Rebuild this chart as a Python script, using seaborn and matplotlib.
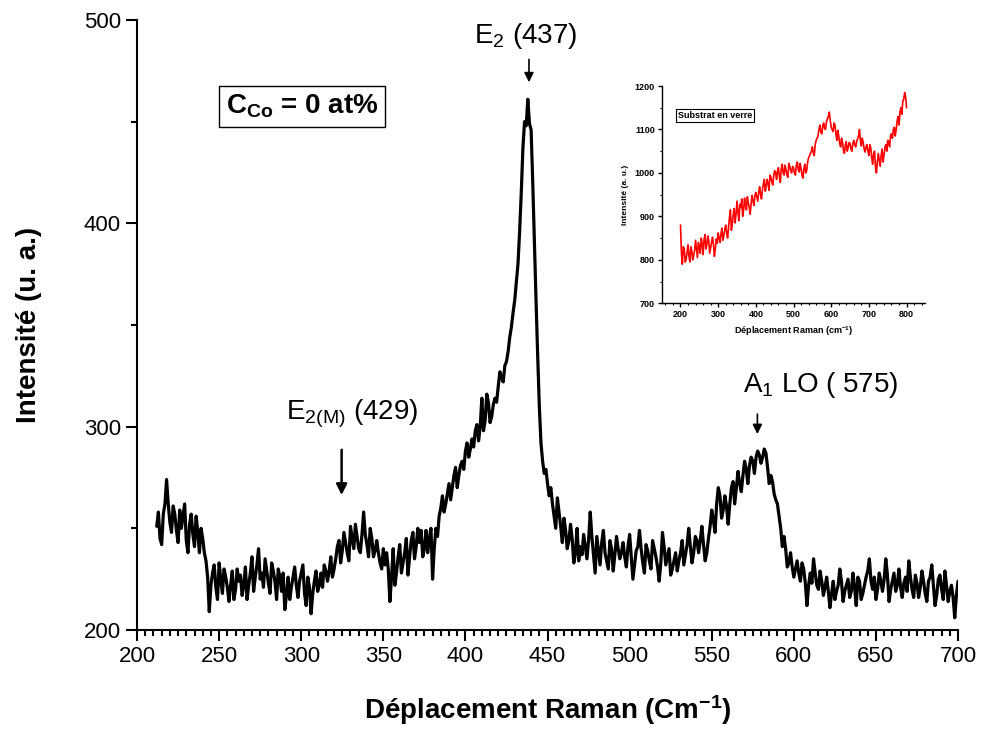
import numpy as np
import pandas as pd
import matplotlib
matplotlib.use("Agg")
import matplotlib.pyplot as plt
import seaborn as sns
from matplotlib.ticker import MultipleLocator

# ---------------- data ----------------
# Main Raman spectrum (C_Co = 0 at%): even wavenumbers 212..700
shift_even = np.arange(212, 701, 2)
intensity_even = [
    251, 245, 257, 274, 253, 261, 249, 259, 256, 244,   # 212-230
    252, 247, 256, 238, 245, 234, 209, 228, 221, 233,   # 232-250
    218, 226, 214, 229, 220, 224, 217, 231, 222, 236,   # 252-270
    226, 240, 228, 235, 223, 233, 224, 230, 219, 210,   # 272-290
    226, 221, 231, 216, 228, 218, 226, 208, 224, 219,   # 292-310
    228, 232, 224, 236, 230, 241, 233, 248, 238, 251,   # 312-330
    240, 246, 238, 258, 242, 250, 236, 244, 233, 240,   # 332-350
    238, 214, 240, 228, 242, 233, 245, 236, 248, 241,   # 352-370
    243, 236, 249, 245, 225, 250, 256, 266, 262, 272,   # 372-390
    270, 280, 276, 283, 288, 285, 294, 298, 293, 314,   # 392-410
    303, 312, 305, 314, 320, 324, 330, 337, 349, 362,   # 412-430
    380, 415, 450, 461, 446, 390, 335, 292, 277, 272,   # 432-450
    270, 256, 265, 251, 255, 240, 252, 233, 250, 241,   # 452-470
    247, 235, 258, 237, 246, 232, 249, 234, 244, 229,   # 472-490
    246, 235, 243, 231, 247, 225, 239, 249, 233, 242,   # 492-510
    234, 244, 236, 224, 248, 232, 240, 230, 238, 234,   # 512-530
    244, 237, 250, 233, 246, 238, 251, 234, 245, 259,   # 532-550
    248, 270, 255, 266, 252, 270, 262, 278, 268, 283,   # 552-570
    272, 285, 277, 288, 282, 289, 280, 276, 267, 262,   # 572-590
    250, 246, 231, 238, 226, 234, 224, 230, 212, 228,   # 592-610
    235, 222, 229, 217, 226, 211, 224, 219, 230, 214,   # 612-630
    222, 216, 228, 212, 224, 218, 226, 235, 220, 215,   # 632-650
    228, 219, 235, 214, 224, 219, 230, 216, 226, 234,   # 652-670
    220, 227, 216, 229, 218, 224, 232, 212, 225, 220,   # 672-690
    229, 214, 222, 206, 224,                            # 692-700
]
# odd wavenumbers 213..699
shift_odd = np.arange(213, 700, 2)
intensity_odd = [
    258, 242, 262, 262, 248, 257, 243, 250, 262, 238,   # 213-231
    257, 241, 248, 250, 238, 226, 222, 232, 215, 225,   # 233-251
    230, 221, 222, 215, 230, 227, 222, 215, 228, 219,   # 253-271
    232, 225, 221, 229, 218, 229, 215, 226, 228, 217,   # 273-291
    215, 226, 222, 224, 232, 212, 221, 218, 229, 222,   # 293-311
    221, 229, 229, 226, 235, 244, 239, 243, 234, 245,   # 313-331
    252, 240, 247, 247, 236, 245, 239, 238, 230, 232,   # 333-351
    230, 226, 222, 236, 228, 238, 227, 244, 235, 250,   # 353-371
    249, 240, 238, 250, 240, 246, 260, 258, 267, 264,   # 373-391
    276, 270, 281, 279, 292, 289, 290, 301, 300, 298,   # 393-411
    316, 302, 311, 312, 327, 322, 332, 344, 356, 371,   # 413-431
    396, 437, 448, 449, 420, 362, 310, 283, 279, 266,   # 433-451
    262, 250, 258, 243, 249, 244, 245, 238, 234, 237,   # 453-471
    241, 244, 246, 228, 239, 243, 238, 230, 240, 237,   # 473-491
    240, 238, 236, 241, 236, 232, 241, 240, 228, 239,   # 493-511
    230, 240, 231, 233, 241, 236, 227, 234, 229, 238,   # 513-531
    232, 242, 241, 238, 244, 244, 242, 238, 251, 254,   # 533-551
    262, 266, 259, 261, 262, 273, 270, 272, 276, 279,   # 553-571
    281, 283, 285, 286, 285, 287, 272, 273, 264, 256,   # 573-591
    241, 240, 233, 231, 230, 228, 233, 223, 222, 223,   # 593-611
    228, 220, 224, 221, 219, 218, 215, 222, 224, 219,   # 613-631
    225, 219, 221, 226, 215, 222, 229, 224, 226, 220,   # 633-651
    224, 225, 227, 220, 228, 222, 221, 223, 219, 226,   # 653-671
    216, 223, 221, 224, 214, 226, 222, 217, 227, 215,   # 673-691
    222, 219, 216, 217,                                 # 693-699
]

# Inset: glass substrate spectrum, grid 200..800 step 5 cm-1 plus mid-points
substrate_shift = np.arange(200, 801, 5)
substrate_intensity = [
    880, 790, 825, 800, 835, 795, 820, 810, 845, 805,
    830, 850, 812, 858, 835, 845, 828, 852, 808, 848,
    862, 840, 873, 855, 880, 850, 898, 868, 905, 885,
    935, 890, 920, 900, 942, 915, 930, 905, 948, 925,
    955, 935, 968, 940, 975, 958, 985, 960, 990, 972,
    1005, 985, 1012, 978, 1020, 995, 1008, 990, 1015, 1000,
    1012, 995, 1025, 1002, 1010, 988, 1020, 1005, 1035, 1045,
    1060, 1040, 1075, 1085, 1110, 1090, 1115, 1100, 1125, 1140,
    1105, 1095, 1110, 1075, 1085, 1060, 1070, 1045, 1072, 1058,
    1068, 1050, 1075, 1060, 1078, 1100, 1062, 1070, 1048, 1065,
    1040, 1058, 1020, 1050, 1000, 1045, 1015, 1055, 1040, 1065,
    1075, 1060, 1090, 1100, 1085, 1120, 1110, 1150, 1165, 1185,
    1150,
]
substrate_shift_mid = np.arange(202.5, 800, 5)
substrate_intensity_mid = [
    815, 830, 795, 818, 808, 830, 800, 822, 826, 840,
    815, 838, 846, 825, 855, 815, 840, 835, 826, 838,
    850, 860, 845, 870, 862, 875, 915, 882, 918, 905,
    910, 928, 940, 915, 925, 945, 920, 930, 935, 948,
    945, 955, 950, 962, 985, 970, 975, 995, 980, 995,
    1000, 1005, 990, 1010, 1000, 1018, 995, 1022, 1005, 1015,
    1000, 1018, 1008, 1022, 995, 1010, 1000, 1025, 1040, 1050,
    1045, 1065, 1080, 1100, 1095, 1108, 1102, 1118, 1130, 1120,
    1100, 1115, 1090, 1098, 1068, 1080, 1052, 1065, 1050, 1070,
    1055, 1068, 1065, 1072, 1085, 1075, 1080, 1055, 1060, 1050,
    1065, 1035, 1045, 1015, 1025, 1030, 1040, 1025, 1058, 1050,
    1070, 1085, 1080, 1105, 1100, 1130, 1140, 1135, 1170, 1175,
]

main_xticks = [200, 250, 300, 350, 400, 450, 500, 550, 600, 650, 700]
main_yticks = [200, 300, 400, 500]
inset_xticks = [200, 300, 400, 500, 600, 700, 800]
inset_yticks = [700, 800, 900, 1000, 1100, 1200]

# ---------------- style ----------------
sns.set_style("ticks")
plt.rcParams['font.family'] = ['Liberation Sans', 'DejaVu Sans']
plt.rcParams['mathtext.fontset'] = 'custom'
plt.rcParams['mathtext.rm'] = 'Liberation Sans'
plt.rcParams['mathtext.it'] = 'Liberation Sans:italic'
plt.rcParams['mathtext.bf'] = 'Liberation Sans:bold'
for key in ['text.color', 'axes.labelcolor', 'xtick.color', 'ytick.color',
            'axes.edgecolor']:
    plt.rcParams[key] = 'black'

fig = plt.figure(figsize=(9.83, 7.29), dpi=100)
ax = fig.add_axes([0.1394, 0.1358, 0.8352, 0.8368])

df = pd.concat([
    pd.DataFrame({"x": shift_even, "y": intensity_even}),
    pd.DataFrame({"x": shift_odd, "y": intensity_odd}),
]).sort_values("x")
sns.lineplot(data=df, x="x", y="y", ax=ax, color="black", linewidth=2.3,
             estimator=None, sort=False)

ax.set_xlim(200, 700)
ax.set_ylim(200, 500)
ax.set_xticks(main_xticks)
ax.set_yticks(main_yticks)
ax.xaxis.set_minor_locator(MultipleLocator(5))
ax.yaxis.set_minor_locator(MultipleLocator(50))
ax.tick_params(axis='both', which='major', direction='out', length=8, width=1.5,
               labelsize=16)
ax.tick_params(axis='both', which='minor', direction='out', length=4, width=1.5)
for s in ['top', 'right']:
    ax.spines[s].set_visible(False)
for s in ['left', 'bottom']:
    ax.spines[s].set_linewidth(1.5)

ax.set_xlabel(r'Déplacement Raman (Cm$^{\mathbf{-1}}$)', fontsize=20,
              fontweight='bold', labelpad=19)
ax.set_ylabel('Intensité (u. a.)', fontsize=20, fontweight='bold', labelpad=30)

# Annotations
ax.text(436.6, 488.5, r'E$_{2}$ (437)', fontsize=20, ha='center', va='baseline')
ax.annotate('', xy=(438.7, 468), xytext=(438.7, 482),
            arrowprops=dict(arrowstyle='-|>', color='black', lw=1.2,
                            mutation_scale=14))
ax.text(331, 303.5, r'E$_{\mathrm{2(M)}}$ (429)', fontsize=20, ha='center',
        va='baseline')
ax.annotate('', xy=(324.6, 265), xytext=(324.6, 290),
            arrowprops=dict(arrowstyle='-|>', color='black', lw=1.8,
                            mutation_scale=16))
ax.text(616.5, 317, r'A$_{1}$ LO ( 575)', fontsize=20, ha='center', va='baseline')
ax.annotate('', xy=(577.8, 295), xytext=(577.8, 307.5),
            arrowprops=dict(arrowstyle='-|>', color='black', lw=1.2,
                            mutation_scale=14))

ax.text(300.5, 457.5, r'C$_{\mathbf{Co}}$ = 0 at%', fontsize=20, fontweight='bold',
        ha='center', va='center',
        bbox=dict(boxstyle='square,pad=0.25', facecolor='white',
                  edgecolor='black', linewidth=1.0))

# ---------------- inset ----------------
axi = fig.add_axes([0.6731, 0.584, 0.2683, 0.298])
dfi = pd.concat([
    pd.DataFrame({"x": substrate_shift, "y": substrate_intensity}),
    pd.DataFrame({"x": substrate_shift_mid, "y": substrate_intensity_mid}),
]).sort_values("x")
sns.lineplot(data=dfi, x="x", y="y", ax=axi, color="red", linewidth=1.2,
             estimator=None, sort=False)
axi.set_xlim(150, 850)
axi.set_ylim(700, 1200)
axi.set_xticks(inset_xticks)
axi.set_yticks(inset_yticks)
axi.xaxis.set_minor_locator(MultipleLocator(20))
axi.yaxis.set_minor_locator(MultipleLocator(50))
axi.tick_params(axis='both', which='major', direction='out', length=3, width=1.0,
                labelsize=6.5, pad=2)
axi.tick_params(axis='both', which='minor', direction='out', length=1.5, width=0.8)
for lab in axi.get_xticklabels() + axi.get_yticklabels():
    lab.set_fontweight('bold')
for s in ['top', 'right']:
    axi.spines[s].set_visible(False)
for s in ['left', 'bottom']:
    axi.spines[s].set_linewidth(1.0)
axi.set_xlabel(r'Déplacement Raman (cm$^{\mathbf{-1}}$)', fontsize=6.5,
               fontweight='bold', labelpad=4)
axi.set_ylabel('Intensité (a. u.)', fontsize=6, fontweight='bold', labelpad=4)
axi.text(194, 1132, 'Substrat en verre', fontsize=6.5, fontweight='bold',
         ha='left', va='center',
         bbox=dict(boxstyle='square,pad=0.2', facecolor='white',
                   edgecolor='black', linewidth=0.8))

fig.savefig('out.png', dpi=100)
